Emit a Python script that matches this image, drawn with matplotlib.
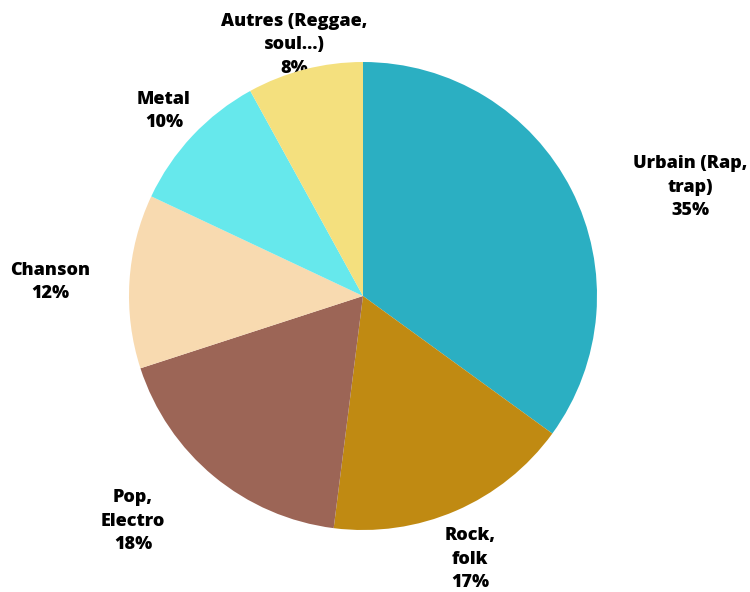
import matplotlib
matplotlib.use("Agg")
import numpy as np
from matplotlib import pyplot as plt

# genre shares, read clockwise from 12 o'clock
genres = ["Urbain (Rap,\ntrap)", "Rock,\nfolk", "Pop,\nElectro", "Chanson", "Metal",
          "Autres (Reggae,\nsoul\u2026)"]
shares = [35, 17, 18, 12, 10, 8]
colors = ["#2BAFC2", "#C08A12", "#9C6556", "#F8DAB0", "#66E8EC", "#F4E07E"]

# label anchors (pixel coords, y from top)
label_xy = [(690, 187), (470, 559), (133, 521), (50, 282), (164, 111), (294, 45)]

W, H = 750, 592
fig = plt.figure(figsize=(W / 100, H / 100), dpi=100)
ax = fig.add_axes([0, 0, 1, 1])
ax.set_xlim(0, W)
ax.set_ylim(0, H)
ax.set_aspect("equal")
ax.axis("off")

cx, cy, r = 363, H - 296, 234
wedges, _ = ax.pie(shares, colors=colors, startangle=90, counterclock=False,
                   center=(cx, cy), radius=r, frame=True,
                   wedgeprops=dict(linewidth=0, zorder=2))
ax.set_xlim(0, W)
ax.set_ylim(0, H)
ax.axis("off")

for g, s, (x, y) in zip(genres, shares, label_xy):
    ax.text(x, H - y, g + "\n" + str(s) + "%", ha="center", va="center",
            fontsize=13, fontweight="heavy", family="Open Sans",
            linespacing=1.5, zorder=1)

fig.savefig("out.png", dpi=100)
